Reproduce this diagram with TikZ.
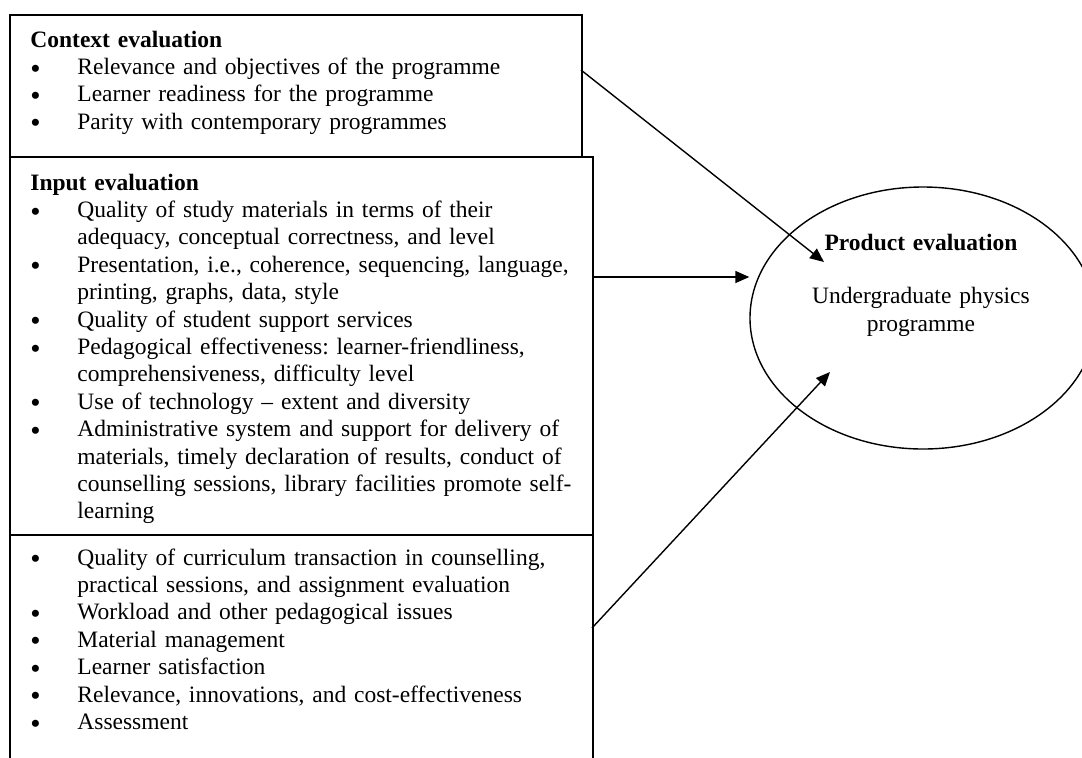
\documentclass[tikz,border=0pt]{standalone}
\usepackage{fontspec}
\setmainfont{Liberation Serif}
\usetikzlibrary{shapes.geometric,arrows.meta}

\tikzset{
  box/.style={draw, line width=0.85pt, rectangle, anchor=north west, inner sep=0pt},
  txt/.style={anchor=base west, inner sep=0pt, text width=300pt, align=left,
    font=\fontsize{11.75pt}{13.7pt}\selectfont\frenchspacing},
  arr/.style={-{Triangle[length=7pt,width=6pt]}, line width=0.7pt},
}
\newcommand{\bul}{\makebox[23.5pt][l]{\smash{\raisebox{-1.8pt}{\scalebox{1.25}{\textbullet}}}}}
\newcommand{\ind}{\hspace*{23.5pt}}

\begin{document}
\begin{tikzpicture}[x=0.5pt,y=-0.5pt]
  \useasboundingbox (0,0) rectangle (1082,757);
  \clip (0,0) rectangle (1082,757);

  % 三つの枠
  \node[box, minimum width=286pt, minimum height=71pt] (ctx) at (9,14) {};
  \node[box, minimum width=291.5pt, minimum height=189pt] (inp) at (9,156) {};
  \node[box, minimum width=291.5pt, minimum height=140pt] (rest) at (9,534) {};

  % 枠の中の文
  \node[txt] (ctxtext) at (30,47) {\textbf{Context evaluation}\\
    \bul Relevance and objectives of the programme\\
    \bul Learner readiness for the programme\\
    \bul Parity with contemporary programmes};
  \node[txt] (inptext) at (30,190) {\textbf{Input evaluation}\\
    \bul Quality of study materials in terms of their\\
    \ind adequacy, conceptual correctness, and level\\
    \bul Presentation, i.e., coherence, sequencing, language,\\
    \ind printing, graphs, data, style\\
    \bul Quality of student support services\\
    \bul Pedagogical effectiveness: learner-friendliness,\\
    \ind comprehensiveness, difficulty level\\
    \bul Use of technology -- extent and diversity\\
    \bul Administrative system and support for delivery of\\
    \ind materials, timely declaration of results, conduct of\\
    \ind counselling sessions, library facilities promote self-\\
    \ind learning};
  \node[txt] (resttext) at (30,565) {\bul Quality of curriculum transaction in counselling,\\
    \ind practical sessions, and assignment evaluation\\
    \bul Workload and other pedagogical issues\\
    \bul Material management\\
    \bul Learner satisfaction\\
    \bul Relevance, innovations, and cost-effectiveness\\
    \bul Assessment};

  % 楕円
  \node[draw, ellipse, line width=0.7pt, inner sep=0pt,
    minimum width=173pt, minimum height=131pt] (prod) at (923,318) {};
  \node[anchor=base, inner sep=0pt, text width=150pt, align=center,
    font=\fontsize{11.75pt}{13.7pt}\selectfont] (prodtext) at (921,250)
    {\textbf{Product evaluation}\\[13.2pt]Undergraduate physics\\programme};

  % 矢印
  \coordinate (ctxout) at (581,70);
  \coordinate (inpout) at (594,277);
  \coordinate (restout) at (592,628);
  \coordinate (prodin1) at (824,262);
  \coordinate (prodin3) at (830,372);
  \draw[arr] (ctxout) -- (prodin1);
  \draw[arr] (inpout) -- (prod.west |- inpout);
  \draw[arr] (restout) -- (prodin3);
\end{tikzpicture}
\end{document}
